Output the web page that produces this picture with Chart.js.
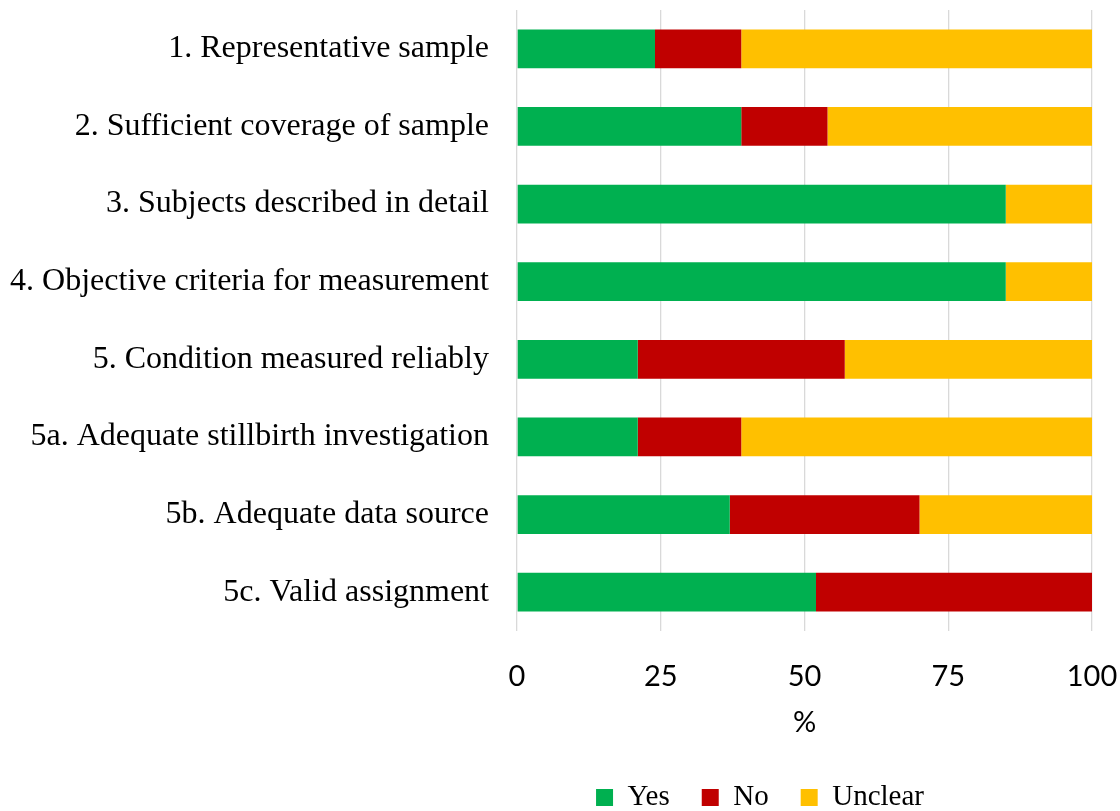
<!DOCTYPE html>
<html>
<head>
<meta charset="utf-8">
<script src="https://cdn.jsdelivr.net/npm/chart.js@4.4.1/dist/chart.umd.min.js"></script>
<style>
  html, body { margin: 0; padding: 0; background: #fff; }
  #wrap { width: 1120px; height: 811px; }
</style>
</head>
<body>
<div id="wrap"><canvas id="chart"></canvas></div>
<script>
// quality criteria, top to bottom
const categories = [
  '1. Representative sample',
  '2. Sufficient coverage of sample',
  '3. Subjects described in detail',
  '4. Objective criteria for measurement',
  '5. Condition measured reliably',
  '5a. Adequate stillbirth investigation',
  '5b. Adequate data source',
  '5c. Valid assignment'
]
const yesValues = [24, 39, 85, 85, 21, 21, 37, 52]
const noValues = [15, 15, 0, 0, 36, 18, 33, 48]
const unclearValues = [61, 46, 15, 15, 43, 61, 30, 0]
const xTicks = [0, 25, 50, 75, 100]

const serif = '"Liberation Serif", "Times New Roman", serif'
const sans = 'Lato, "Open Sans", sans-serif'

// nudge the legend so it sits where the original one does
const legendShift = {
  id: 'legendShift',
  afterLayout(chart) {
    const lg = chart.legend
    if (lg) {
      lg.left = 400
      lg.right = 1120
    }
  }
}

const makeSet = (label, data, color) => ({
  label,
  data,
  backgroundColor: color,
  borderWidth: 0,
  categoryPercentage: 1,
  barPercentage: 0.5
})

new Chart(document.getElementById('chart'), {
  type: 'bar',
  data: {
    labels: categories,
    datasets: [
      makeSet('Yes', yesValues, '#00B050'),
      makeSet('No', noValues, '#C00000'),
      makeSet('Unclear', unclearValues, '#FFC000')
    ]
  },
  options: {
    indexAxis: 'y',
    responsive: true,
    maintainAspectRatio: false,
    animation: false,
    layout: {padding: {top: 10, right: 28, left: 0, bottom: -11}},
    plugins: {
      tooltip: {enabled: false},
      legend: {
        position: 'bottom',
        labels: {
          boxWidth: 17,
          boxHeight: 17,
          padding: 32,
          color: '#000',
          font: {family: serif, size: 29}
        }
      }
    },
    scales: {
      x: {
        stacked: true,
        min: 0,
        max: 100,
        afterBuildTicks(scale) {
          scale.ticks = xTicks.map(v => ({value: v}))
        },
        afterFit(scale) {
          scale.paddingLeft = 0
          scale.paddingRight = 0
        },
        grid: {color: '#d9d9d9', lineWidth: 1.3, drawTicks: false},
        border: {display: false},
        ticks: {color: '#000', padding: 31, font: {family: sans, size: 29, lineHeight: 1}},
        title: {
          display: true,
          text: '%',
          color: '#000',
          padding: {top: -14, bottom: 14},
          font: {family: sans, size: 29, lineHeight: 1}
        }
      },
      y: {
        stacked: true,
        afterFit(scale) {
          scale.width = 517
          scale.paddingTop = 0
          scale.paddingBottom = 0
        },
        grid: {display: false, drawTicks: false},
        border: {display: false},
        ticks: {color: '#000', padding: 28, font: {family: serif, size: 32}}
      }
    }
  },
  plugins: [legendShift]
})
</script>
</body>
</html>
